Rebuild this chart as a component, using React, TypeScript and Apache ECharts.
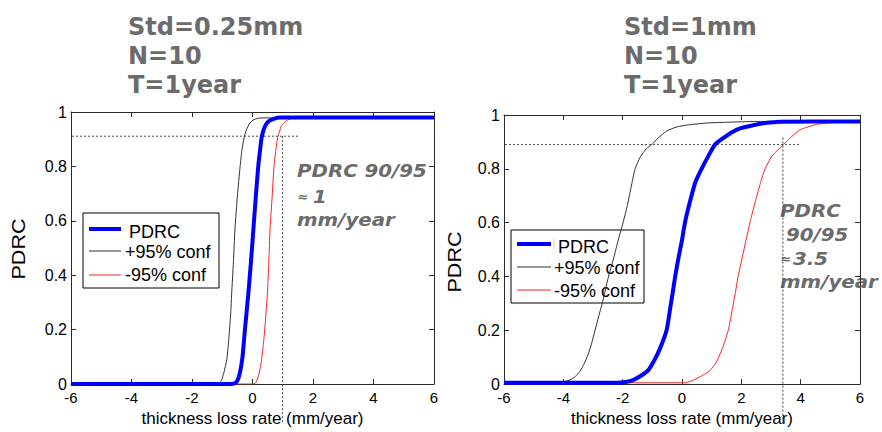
import React, { useEffect, useRef } from "react";
import * as echarts from "echarts";

// ---------- data ----------
const X_TICK_MIN = -6;
const X_TICK_MAX = 6;
const X_TICK_STEP = 2;
const Y_TICK_STEP = 0.2;

// Left panel: Std=0.25mm
const LEFT_PDRC: [number, number][] = [
  [-6, 0], [-0.7, 0], [-0.55, 0.005], [-0.47, 0.02], [-0.4, 0.05], [-0.33, 0.1], [-0.25, 0.2],
  [-0.14, 0.33], [-0.05, 0.45], [0.03, 0.57], [0.11, 0.69], [0.19, 0.8], [0.25, 0.86], [0.3, 0.905],
  [0.37, 0.935], [0.45, 0.955], [0.55, 0.967], [0.7, 0.975], [0.9, 0.98], [6, 0.98],
];
const LEFT_PLUS95: [number, number][] = [
  [-6, 0], [-1.2, 0], [-1.08, 0.005], [-1.02, 0.015], [-0.95, 0.04], [-0.85, 0.09], [-0.78, 0.17],
  [-0.72, 0.26], [-0.69, 0.33], [-0.63, 0.45], [-0.58, 0.57], [-0.5, 0.69], [-0.41, 0.8], [-0.35, 0.86],
  [-0.28, 0.905], [-0.2, 0.935], [-0.08, 0.96], [0.05, 0.972], [0.25, 0.978], [6, 0.98],
];
const LEFT_MINUS95: [number, number][] = [
  [-6, 0], [0.0, 0], [0.1, 0.004], [0.14, 0.012], [0.22, 0.04], [0.3, 0.09], [0.38, 0.17], [0.44, 0.25],
  [0.49, 0.33], [0.54, 0.45], [0.58, 0.57], [0.65, 0.69], [0.71, 0.8], [0.77, 0.86], [0.83, 0.905],
  [0.9, 0.93], [0.96, 0.95], [1.1, 0.966], [1.24, 0.975], [1.6, 0.98], [6, 0.98],
];
const LEFT_REF_H: [number, number][] = [[-8.35, 0.911], [1.5, 0.911]];
const LEFT_REF_V: [number, number][] = [[0.99, 0.911], [0.99, -0.143]];

// Right panel: Std=1mm
const RIGHT_PDRC: [number, number][] = [
  [-6, 0.005], [-2.2, 0.005], [-1.9, 0.008], [-1.65, 0.015], [-1.4, 0.03], [-1.15, 0.05], [-0.95, 0.085],
  [-0.75, 0.13], [-0.52, 0.2], [-0.4, 0.28], [-0.3, 0.35], [-0.23, 0.4], [-0.1, 0.48], [0.0, 0.535],
  [0.1, 0.6], [0.25, 0.67], [0.45, 0.75], [0.66, 0.8], [0.9, 0.85], [1.11, 0.89], [1.4, 0.915],
  [1.7, 0.937], [1.96, 0.95], [2.4, 0.962], [2.8, 0.97], [3.3, 0.975], [6, 0.976],
];
const RIGHT_PLUS95: [number, number][] = [
  [-6, 0.005], [-4.2, 0.005], [-3.95, 0.01], [-3.78, 0.015], [-3.6, 0.028], [-3.44, 0.048], [-3.3, 0.075],
  [-3.17, 0.109], [-3.05, 0.15], [-2.93, 0.2], [-2.8, 0.255], [-2.65, 0.317], [-2.5, 0.39], [-2.3, 0.47],
  [-2.15, 0.535], [-2.03, 0.582], [-1.85, 0.66], [-1.7, 0.74], [-1.58, 0.8], [-1.4, 0.845], [-1.2, 0.875],
  [-1.02, 0.89], [-0.8, 0.915], [-0.52, 0.94], [-0.2, 0.955], [0.2, 0.963], [0.8, 0.97], [1.5, 0.973],
  [2.5, 0.976], [6, 0.976],
];
const RIGHT_MINUS95: [number, number][] = [
  [-6, 0.005], [0.1, 0.005], [0.39, 0.015], [0.65, 0.03], [0.94, 0.05], [1.15, 0.08], [1.35, 0.13],
  [1.56, 0.2], [1.7, 0.28], [1.8, 0.34], [1.89, 0.4], [2.05, 0.48], [2.29, 0.6], [2.5, 0.69], [2.65, 0.75],
  [2.8, 0.8], [3.05, 0.85], [3.42, 0.89], [3.7, 0.92], [3.98, 0.945], [4.54, 0.965], [5.2, 0.973], [6, 0.976],
];
const RIGHT_REF_H: [number, number][] = [[-6.37, 0.89], [3.98, 0.89]];
const RIGHT_REF_V: [number, number][] = [[3.4, 0.916], [3.4, -0.153]];

const LEFT_TITLE = ["Std=0.25mm", "N=10", "T=1year"];
const RIGHT_TITLE = ["Std=1mm", "N=10", "T=1year"];
const LEGEND_NAMES = ["PDRC", "+95% conf", "-95% conf"];
const X_NAME = "thickness loss rate (mm/year)";
const Y_NAME = "PDRC";

// ---------- styles ----------
const SANS = "'Liberation Sans', Arial, Helvetica, sans-serif";
const VERDANA = "'DejaVu Sans', Verdana, sans-serif";
const GRAY_TXT = "#6b6b6b";
const AXIS_COLOR = "#2a2a2a";
const BLUE = "#0000ff";
const BLACK = "#303030";
const RED = "#ff2020";

function xAxis(gridIndex: number, position: "bottom" | "top", labels: boolean, nameGap: number) {
  return {
    type: "value",
    gridIndex,
    position,
    min: X_TICK_MIN,
    max: X_TICK_MAX,
    interval: X_TICK_STEP,
    name: labels ? X_NAME : "",
    nameLocation: "middle",
    nameGap,
    nameTextStyle: { fontFamily: SANS, fontSize: 17, color: "#000" },
    axisLine: { show: true, onZero: false, lineStyle: { color: AXIS_COLOR, width: 1 } },
    axisTick: { show: true, inside: true, length: 5, lineStyle: { color: AXIS_COLOR } },
    axisLabel: { show: labels, margin: 6, fontFamily: SANS, fontSize: 15, lineHeight: 15, color: "#000" },
    splitLine: { show: false },
  };
}

function yAxis(gridIndex: number, position: "left" | "right", labels: boolean) {
  return {
    type: "value",
    gridIndex,
    position,
    min: 0,
    max: 1,
    interval: Y_TICK_STEP,
    axisLine: { show: true, onZero: false, lineStyle: { color: AXIS_COLOR, width: 1 } },
    axisTick: { show: true, inside: true, length: 5, lineStyle: { color: AXIS_COLOR } },
    axisLabel: {
      show: labels,
      margin: 4,
      fontFamily: SANS,
      fontSize: 16,
      lineHeight: 14,
      padding: [0, 0, 4, 0],
      color: "#000",
    },
    splitLine: { show: false },
  };
}

function curve(data: [number, number][], xi: number, yi: number, color: string, width: number, z: number) {
  return {
    type: "line",
    xAxisIndex: xi,
    yAxisIndex: yi,
    data,
    showSymbol: false,
    symbol: "none",
    smooth: 0.2,
    z,
    lineStyle: { color, width },
    silent: true,
  };
}

function refLine(data: [number, number][], xi: number, yi: number) {
  return {
    type: "line",
    xAxisIndex: xi,
    yAxisIndex: yi,
    data,
    showSymbol: false,
    symbol: "none",
    clip: false,
    z: 1,
    lineStyle: { color: "#444", width: 1, type: [2, 2] },
    silent: true,
  };
}

function titleTexts(x: number, lines: string[]) {
  const ys = [27, 56, 85];
  return lines.map((t, i) => ({
    type: "text",
    x,
    y: ys[i],
    style: {
      text: t,
      fill: GRAY_TXT,
      fontFamily: VERDANA,
      fontWeight: "bold",
      fontSize: 24,
      verticalAlign: "middle",
      align: "left",
    },
  }));
}

function annot(x: number, y: number, t: string, size = 18) {
  return {
    type: "text",
    x,
    y,
    scaleX: 1.1,
    style: {
      text: t,
      fill: GRAY_TXT,
      fontFamily: VERDANA,
      fontWeight: "bold",
      fontStyle: "italic",
      fontSize: size,
      verticalAlign: "middle",
      align: "left",
    },
  };
}

function legend(
  box: [number, number, number, number],
  lineX: [number, number],
  textX: number,
  rows: number[],
  textRows: number[],
  extraTick: boolean
) {
  const colors = [BLUE, BLACK, RED];
  const widths = [4, 1, 1];
  const children: any[] = [
    {
      type: "rect",
      shape: { x: box[0], y: box[1], width: box[2], height: box[3] },
      style: { fill: "#fff", stroke: "#000", lineWidth: 1 },
    },
  ];
  LEGEND_NAMES.forEach((n, i) => {
    children.push({
      type: "line",
      shape: { x1: lineX[0], y1: rows[i], x2: lineX[1], y2: rows[i] },
      style: { stroke: colors[i], lineWidth: widths[i] },
    });
    children.push({
      type: "text",
      x: i === 0 ? textX + 4 : textX,
      y: textRows[i],
      style: {
        text: n,
        fill: "#000",
        fontFamily: SANS,
        fontSize: 18,
        verticalAlign: "middle",
        align: "left",
      },
    });
  });
  if (extraTick) {
    children.push({
      type: "line",
      shape: { x1: lineX[1] + 3, y1: rows[0] - 5, x2: lineX[1] + 3, y2: rows[0] + 5 },
      style: { stroke: "#f5c9a0", lineWidth: 1 },
    });
  }
  return { type: "group", z: 100, children };
}

function yName(x: number, y: number) {
  return {
    type: "text",
    x,
    y,
    rotation: Math.PI / 2,
    scaleX: 1.2,
    style: {
      text: Y_NAME,
      fill: "#000",
      fontFamily: SANS,
      fontSize: 18,
      align: "center",
      verticalAlign: "middle",
    },
  };
}

const option: any = {
  animation: false,
  backgroundColor: "#fff",
  grid: [
    { left: 71, top: 112, width: 363, height: 280 },
    { left: 504, top: 115, width: 356, height: 275 },
  ],
  xAxis: [
    xAxis(0, "bottom", true, 26),
    xAxis(0, "top", false, 0),
    xAxis(1, "bottom", true, 25),
    xAxis(1, "top", false, 0),
  ],
  yAxis: [yAxis(0, "left", true), yAxis(0, "right", false), yAxis(1, "left", true), yAxis(1, "right", false)],
  series: [
    refLine(LEFT_REF_H, 0, 0),
    refLine(LEFT_REF_V, 0, 0),
    curve(LEFT_PLUS95, 0, 0, BLACK, 1, 3),
    curve(LEFT_MINUS95, 0, 0, RED, 1, 3),
    curve(LEFT_PDRC, 0, 0, BLUE, 4, 4),
    refLine(RIGHT_REF_H, 2, 2),
    refLine(RIGHT_REF_V, 2, 2),
    curve(RIGHT_PLUS95, 2, 2, BLACK, 1, 3),
    curve(RIGHT_MINUS95, 2, 2, RED, 1, 3),
    curve(RIGHT_PDRC, 2, 2, BLUE, 4, 4),
  ],
  graphic: [
    ...titleTexts(128, LEFT_TITLE),
    ...titleTexts(624, RIGHT_TITLE),
    yName(19, 249),
    yName(455, 262),
    annot(297, 170, "PDRC 90/95"),
    annot(297, 197, "≈", 12),
    annot(313, 196, "1"),
    annot(297, 219, "mm/year"),
    annot(780, 210, "PDRC"),
    annot(786, 234, "90/95"),
    annot(780, 259, "≈", 12),
    annot(793, 258, "3.5"),
    annot(780, 281, "mm/year"),
    legend([83, 213, 136, 75], [89, 121], 125, [229, 251, 275], [232, 252, 275], false),
    legend([511, 230, 133, 73], [517, 551], 554, [244, 267, 290], [247, 268, 291], true),
  ],
};

export default function App() {
  const ref = useRef<HTMLDivElement>(null);
  useEffect(() => {
    document.body.style.margin = "0";
    const chart = echarts.init(ref.current!, null, { renderer: "svg" });
    chart.setOption(option);
    return () => chart.dispose();
  }, []);
  return <div ref={ref} style={{ width: 882, height: 432 }} />;
}
